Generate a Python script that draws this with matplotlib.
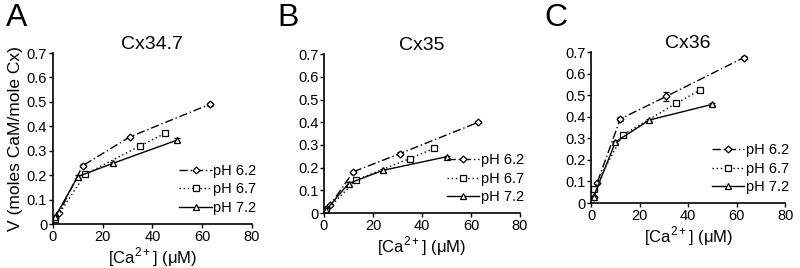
import matplotlib
matplotlib.use('Agg')
import matplotlib.pyplot as plt
from matplotlib.lines import Line2D

plt.rcParams['font.family'] = ['Liberation Sans', 'DejaVu Sans']
plt.rcParams['mathtext.fontset'] = 'custom'
plt.rcParams['mathtext.rm'] = 'Liberation Sans'

# --- data ---
panels = ['A', 'B', 'C']
titles = ['Cx34.7', 'Cx35', 'Cx36']
labels = ['pH 6.2', 'pH 6.7', 'pH 7.2']

x_62 = [1, 2.5, 12, 31, 63]
x_67 = [1, 13, 35, 45]
x_72 = [1, 10, 24, 50]

# panel A
a_62 = [0.024, 0.045, 0.239, 0.357, 0.49]
a_67 = [0.019, 0.203, 0.32, 0.371]
a_72 = [0.03, 0.194, 0.248, 0.344]
# panel B
b_62 = [0.02, 0.035, 0.182, 0.262, 0.40]
b_67 = [0.01, 0.145, 0.24, 0.285]
b_72 = [0.015, 0.13, 0.188, 0.248]
# panel C
c_62 = [0.03, 0.095, 0.39, 0.495, 0.675]
c_67 = [0.065, 0.315, 0.462, 0.525]
c_72 = [0.03, 0.283, 0.385, 0.458]

# error bars (mostly tiny)
a_62_err = [0, 0, 0.005, 0.005, 0.005]
a_67_err = [0, 0.005, 0.005, 0.008]
a_72_err = [0, 0.005, 0.005, 0.008]
b_62_err = [0, 0, 0.005, 0.005, 0.005]
b_67_err = [0, 0.005, 0.005, 0.008]
b_72_err = [0, 0.005, 0.005, 0.005]
c_62_err = [0, 0, 0.008, 0.02, 0.008]
c_67_err = [0, 0.005, 0.005, 0.005]
c_72_err = [0, 0.005, 0.005, 0.005]

data = [
    [(x_62, a_62, a_62_err), (x_67, a_67, a_67_err), (x_72, a_72, a_72_err)],
    [(x_62, b_62, b_62_err), (x_67, b_67, b_67_err), (x_72, b_72, b_72_err)],
    [(x_62, c_62, c_62_err), (x_67, c_67, c_67_err), (x_72, c_72, c_72_err)],
]

styles = [
    dict(linestyle=(0, (6, 2, 1, 2)), marker='D', markersize=3.5),
    dict(linestyle=(0, (1, 2)), marker='s', markersize=4.5),
    dict(linestyle='-', marker='^', markersize=5),
]

# axes boxes in figure fractions (panels are staggered in the original)
boxes = [
    [0.066, 0.164, 0.249, 0.638],
    [0.405, 0.205, 0.245, 0.593],
    [0.739, 0.2425, 0.2425, 0.563],
]

fig = plt.figure(figsize=(8, 2.68), dpi=100)

for i in range(3):
    ax = fig.add_axes(boxes[i])
    handles = []
    for j in range(3):
        xs, ys, es = data[i][j]
        ax.errorbar(xs, ys, yerr=es, color='black', lw=1.0, capsize=2,
                    elinewidth=0.8, markerfacecolor='white',
                    markeredgecolor='black', markeredgewidth=0.9,
                    **styles[j])
        handles.append(Line2D([], [], color='black', lw=1.0,
                              markerfacecolor='white', markeredgecolor='black',
                              markeredgewidth=0.9, label=labels[j], **styles[j]))
    ax.set_xlim(0, 80)
    ax.set_ylim(0, 0.7)
    ax.set_xticks([0, 20, 40, 60, 80])
    ax.set_yticks([0, 0.1, 0.2, 0.3, 0.4, 0.5, 0.6, 0.7])
    ax.set_yticklabels(['0', '0.1', '0.2', '0.3', '0.4', '0.5', '0.6', '0.7'])
    for s in ['top', 'right']:
        ax.spines[s].set_visible(False)
    ax.spines['left'].set_linewidth(1.2)
    ax.spines['bottom'].set_linewidth(1.2)
    ax.tick_params(direction='out', length=3, width=1, labelsize=10.5, pad=1)
    ax.set_title(titles[i], fontsize=14, pad=3)
    ax.set_xlabel('[Ca$^{\\mathregular{2+}}$] (\u03bcM)', fontsize=12, labelpad=1)
    if i == 0:
        ax.set_ylabel('V (moles CaM/mole Cx)', fontsize=12.5, labelpad=3)
    ax.legend(handles=handles, loc='lower right', bbox_to_anchor=(1.05, 0.02),
              frameon=False, fontsize=10.5, handlelength=2.2, handletextpad=0.1,
              labelspacing=0.3, borderaxespad=0)
    fig.text(boxes[i][0] - 0.058, 0.875, panels[i], fontsize=23, va='bottom')

fig.savefig('out.png', dpi=100)
